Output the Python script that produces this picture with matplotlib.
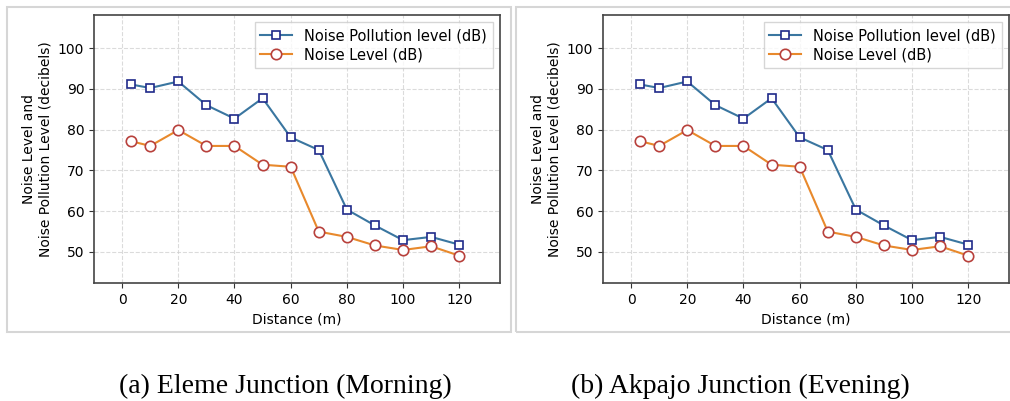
import matplotlib.pyplot as plt
from matplotlib.patches import Rectangle

# distances along the road (m)
distance = [3, 10, 20, 30, 40, 50, 60, 70, 80, 90, 100, 110, 120]

# readings (same for both junctions)
pollution_level = [91.1, 90.2, 91.8, 86.0, 82.7, 87.7, 78.1, 75.0, 60.4, 56.5, 52.9, 53.7, 51.8]
noise_level = [77.2, 76.0, 79.9, 76.0, 76.0, 71.4, 70.9, 55.0, 53.7, 51.6, 50.5, 51.4, 49.1]

captions = ['(a) Eleme Junction (Morning)', '(b) Akpajo Junction (Evening)']
yticks = [50, 60, 70, 80, 90, 100]
xticks = [0, 20, 40, 60, 80, 100, 120]

W, H = 1010, 401
fig = plt.figure(figsize=(W / 100, H / 100), dpi=100)

def fx(px):
    return px / W

def fy(py):
    return 1 - py / H

# light gray frames around each panel
for x0, x1 in [(7, 511), (516, 1020)]:
    fig.patches.append(Rectangle((fx(x0), fy(332)), fx(x1 - x0), (332 - 7) / H,
                                 transform=fig.transFigure, fill=False,
                                 edgecolor='#d6d6d6', lw=1.5))

axes_left = [94, 603]
for i, left in enumerate(axes_left):
    ax = fig.add_axes([fx(left), fy(283), fx(406), (283 - 15) / H])
    ax.plot(distance, pollution_level, color='#3a76a0', lw=1.5, marker='s',
            markersize=6, markerfacecolor='white', markeredgecolor='#1f2a8a',
            markeredgewidth=1.2, label='Noise Pollution level (dB)')
    ax.plot(distance, noise_level, color='#e8892c', lw=1.5, marker='o',
            markersize=7.5, markerfacecolor='white', markeredgecolor='#b8413c',
            markeredgewidth=1.2, label='Noise Level (dB)')
    ax.set_xlim(-10, 134.5)
    ax.set_ylim(42.4, 108.1)
    ax.set_xticks(xticks)
    ax.set_yticks(yticks)
    ax.tick_params(labelsize=10, color='#333333', length=3.5)
    ax.grid(True, linestyle='--', color='#cccccc', alpha=0.7, lw=0.8)
    for s in ax.spines.values():
        s.set_color('#444444')
        s.set_linewidth(1.2)
    ax.set_xlabel('Distance (m)', fontsize=10)
    ax.set_ylabel('Noise Level and\nNoise Pollution Level (decibels)', fontsize=10)
    ax.legend(loc='upper right', fontsize=10.5, handlelength=2.2, borderpad=0.4,
              labelspacing=0.3, fancybox=False)

# captions under the panels
for cx, text in zip([285, 740], captions):
    fig.text(fx(cx), fy(386), text, ha='center', va='center',
             family='Liberation Serif', fontsize=20)

plt.savefig('out.png', dpi=100)
